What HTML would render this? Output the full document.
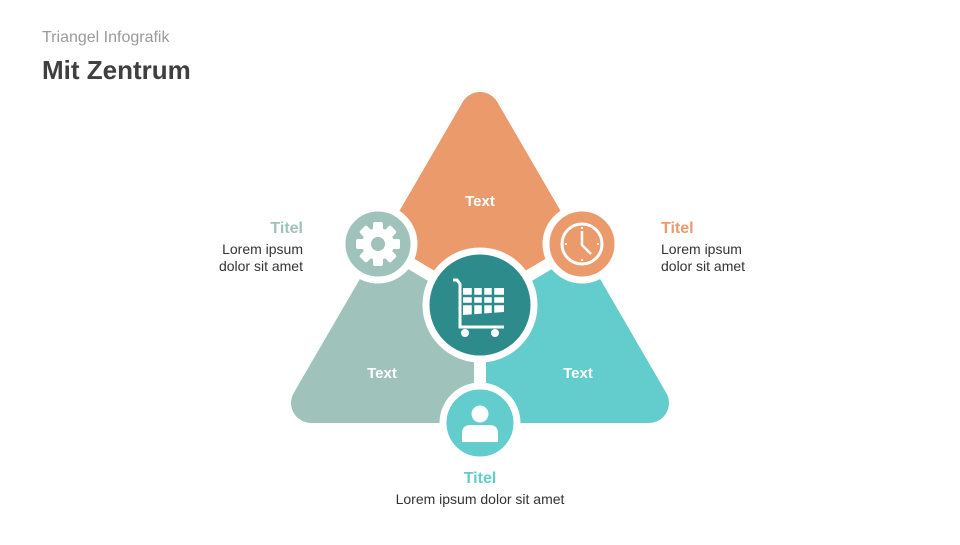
<!DOCTYPE html>
<html><head><meta charset="utf-8"><style>
body{margin:0;width:960px;height:540px;background:#fff;overflow:hidden;font-family:"Liberation Sans",sans-serif}
</style></head><body>
<svg width="960" height="540" viewBox="0 0 960 540" xmlns="http://www.w3.org/2000/svg" font-family="Liberation Sans, sans-serif">
<defs>
<clipPath id="co"><polygon points="480,305 199,134 200,0 760,0 761,134"/></clipPath>
<clipPath id="cs"><polygon points="480,305 199,134 150,134 150,540 480,540"/></clipPath>
<clipPath id="ct"><polygon points="480,305 761,134 810,134 810,540 480,540"/></clipPath>
</defs>
<text x="42" y="42" font-size="16" fill="#9a9a9a">Triangel Infografik</text>
<text x="42" y="79" font-size="26" font-weight="bold" fill="#3f3f3f">Mit Zentrum</text>
<g stroke-width="40" stroke-linejoin="round">
<polygon points="480,112 311,403 649,403" fill="#EA9A6B" stroke="#EA9A6B" clip-path="url(#co)"/>
<polygon points="480,112 311,403 649,403" fill="#9FC3BA" stroke="#9FC3BA" clip-path="url(#cs)"/>
<polygon points="480,112 311,403 649,403" fill="#63CCCC" stroke="#63CCCC" clip-path="url(#ct)"/>
</g>
<g stroke="#fff" stroke-width="12">
<line x1="480" y1="305" x2="378" y2="244"/>
<line x1="480" y1="305" x2="582" y2="244"/>
<line x1="480" y1="305" x2="480" y2="423"/>
</g>
<g stroke="#fff" stroke-width="7">
<circle cx="378" cy="244" r="36" fill="#9FC3BA"/>
<circle cx="582" cy="244" r="36" fill="#EA9A6B"/>
<circle cx="480" cy="423" r="37" fill="#63CCCC"/>
<circle cx="480" cy="305" r="54" fill="#2E8B8B"/>
</g>
<g fill="#fff" transform="translate(378,244)">
<g id="t"><rect x="-5" y="-22" width="10" height="10" rx="2"/></g>
<use href="#t" transform="rotate(45)"/><use href="#t" transform="rotate(90)"/><use href="#t" transform="rotate(135)"/>
<use href="#t" transform="rotate(180)"/><use href="#t" transform="rotate(225)"/><use href="#t" transform="rotate(270)"/><use href="#t" transform="rotate(315)"/>
<circle r="16"/>
<circle r="7" fill="#9FC3BA"/>
</g>
<g transform="translate(582,244)" stroke="#fff" fill="none">
<circle r="20" stroke-width="3"/>
<polyline points="0,-13 0,1 9,10" stroke-width="2.5"/>
<g stroke-width="2"><line x1="0" y1="-17" x2="0" y2="-15"/><line x1="0" y1="15" x2="0" y2="17"/><line x1="-17" y1="0" x2="-15" y2="0"/><line x1="15" y1="0" x2="17" y2="0"/></g>
</g>
<g transform="translate(480,305)" fill="none" stroke="#fff">
<polyline points="-27,-25 -23,-25 -20,-21 -20,22 24,22" stroke-width="3"/>
<path d="M-17,-17 H24 V7 L-17,10 Z" fill="#fff" stroke="none"/>
<g stroke="#2E8B8B" stroke-width="2.5"><line x1="-17" y1="-9" x2="24" y2="-9"/><line x1="-17" y1="-1" x2="24" y2="-1"/>
<line x1="-7" y1="-17" x2="-7" y2="10"/><line x1="3" y1="-17" x2="3" y2="10"/><line x1="13" y1="-17" x2="13" y2="10"/></g>
<circle cx="-15" cy="28" r="4" fill="#fff" stroke="none"/><circle cx="15" cy="28" r="4" fill="#fff" stroke="none"/>
</g>
<g transform="translate(480,423)" fill="#fff">
<circle cx="0" cy="-9" r="8.5"/>
<path d="M-18,19 V10 Q-18,2 -9,2 H9 Q18,2 18,10 V19 Z"/>
</g>
<g fill="#fff" font-weight="bold" font-size="15" text-anchor="middle">
<text x="480" y="206">Text</text>
<text x="382" y="378">Text</text>
<text x="578" y="378">Text</text>
</g>
<g font-size="14" fill="#333">
<text x="303" y="233" text-anchor="end" font-weight="bold" font-size="16" fill="#9FC3BA">Titel</text>
<text x="303" y="254" text-anchor="end">Lorem ipsum</text>
<text x="303" y="271" text-anchor="end">dolor sit amet</text>
<text x="661" y="233" font-weight="bold" font-size="16" fill="#EA9A6B">Titel</text>
<text x="661" y="254">Lorem ipsum</text>
<text x="661" y="271">dolor sit amet</text>
<text x="480" y="483" text-anchor="middle" font-weight="bold" font-size="16" fill="#63CCCC">Titel</text>
<text x="480" y="504" text-anchor="middle">Lorem ipsum dolor sit amet</text>
</g>
</svg>
</body></html>
